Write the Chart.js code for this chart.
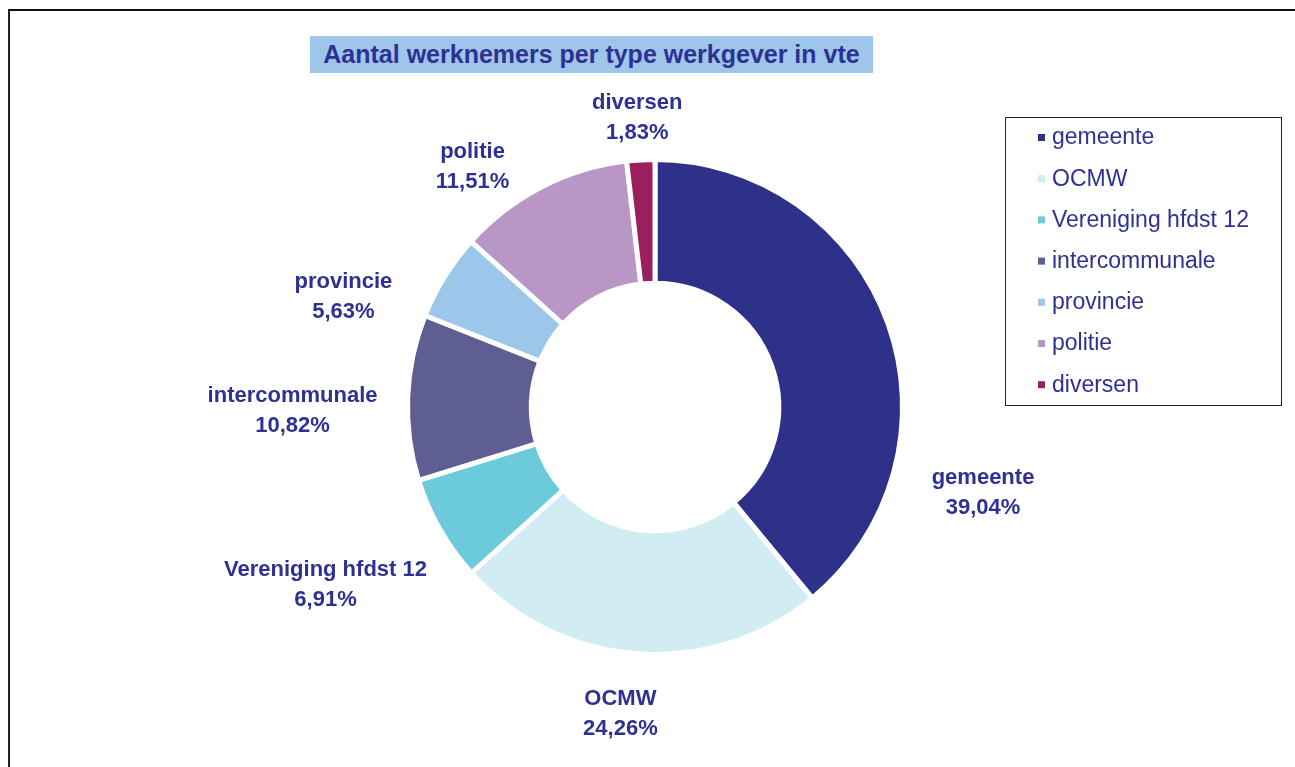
<!DOCTYPE html>
<html>
<head>
<meta charset="utf-8">
<script src="https://cdn.jsdelivr.net/npm/chart.js@4.4.1/dist/chart.umd.min.js"></script>
<style>
  html, body { margin: 0; padding: 0; background: #fff; }
  #wrap { position: relative; width: 1295px; height: 767px; overflow: hidden; }
  #frame { position: absolute; left: 8px; top: 9px; width: 1400px; height: 900px;
           border-top: 2px solid #111; border-left: 2px solid #222; }
  #title { position: absolute; left: 310px; top: 36px; width: 563px; height: 37px;
           background: #9dc6ea; color: #2e3192; text-align: center;
           font: bold 25px "Liberation Sans", Arial, sans-serif; line-height: 37px; }
  canvas { position: absolute; left: 0; top: 0; }
</style>
</head>
<body>
<div id="wrap">
  <div id="frame"></div>
  <canvas id="donut" width="1295" height="767"></canvas>
  <div id="title">Aantal werknemers per type werkgever in vte</div>
</div>
<script>
// Data
var categories = ['gemeente', 'OCMW', 'Vereniging hfdst 12', 'intercommunale', 'provincie', 'politie', 'diversen'];
var shares = [39.04, 24.26, 6.91, 10.82, 5.63, 11.51, 1.83];
var sliceColors = ['#2e3189', '#d1ecf2', '#6ccbdb', '#5f5e93', '#9dc7ea', '#b897c6', '#9b1f5e'];

var textColor = '#2e3192';
var fontFamily = '"Liberation Sans", Arial, sans-serif';

function fmtPct(v) {
  return v.toFixed(2).replace('.', ',') + '%';
}

// labels outside the ring, like the Excel "outside end" labels
var outsideLabels = {
  id: 'outsideLabels',
  afterDatasetsDraw: function(chart, args, opts) {
    var ctx = chart.ctx;
    var meta = chart.getDatasetMeta(0);
    ctx.save();
    ctx.font = 'bold 22px ' + fontFamily;
    ctx.fillStyle = textColor;
    ctx.textAlign = 'center';
    ctx.textBaseline = 'middle';
    meta.data.forEach(function(arc, i) {
      var nudge = opts.nudge[i] || [0, 0];
      var a = (arc.startAngle + arc.endAngle) / 2 + nudge[0] * Math.PI / 180;
      var d = arc.outerRadius + opts.gap + nudge[1];
      var l1 = chart.data.labels[i];
      var l2 = fmtPct(chart.data.datasets[0].data[i]);
      var w = Math.max(ctx.measureText(l1).width, ctx.measureText(l2).width);
      var h = 52;
      var cx = arc.x + d * Math.cos(a) + w / 2 * Math.cos(a);
      var cy = arc.y + d * Math.sin(a) + h / 2 * Math.sin(a);
      ctx.fillText(l1, cx, cy - 15);
      ctx.fillText(l2, cx, cy + 15);
    });
    ctx.restore();
  }
};

// boxed legend on the right
var boxLegend = {
  id: 'boxLegend',
  afterDraw: function(chart, args, opts) {
    var ctx = chart.ctx;
    ctx.save();
    ctx.strokeStyle = '#222';
    ctx.lineWidth = 1;
    ctx.strokeRect(opts.x + 0.5, opts.y + 0.5, opts.w, opts.h);
    ctx.font = '23px ' + fontFamily;
    ctx.textBaseline = 'middle';
    chart.data.labels.forEach(function(lab, i) {
      var y = opts.y + 20 + i * 41.2;
      ctx.fillStyle = chart.data.datasets[0].backgroundColor[i];
      ctx.fillRect(opts.x + 33, y - 3, 7, 7);
      ctx.fillStyle = textColor;
      ctx.fillText(lab, opts.x + 47, y + 1);
    });
    ctx.restore();
  }
};

new Chart(document.getElementById('donut'), {
  type: 'doughnut',
  data: {
    labels: categories,
    datasets: [{
      data: shares,
      backgroundColor: sliceColors,
      borderColor: '#ffffff',
      borderWidth: 5
    }]
  },
  options: {
    responsive: false,
    animation: false,
    devicePixelRatio: 1,
    cutout: '50%',
    layout: {
      padding: { left: 404, right: 389, top: 157, bottom: 110 }
    },
    plugins: {
      legend: { display: false },
      tooltip: { enabled: false },
      outsideLabels: {
        gap: 30,
        nudge: [[35.5, 12], [2, 5], [-4, 17], [-3, 0], [-11, 7], [-9, -6], [0, -14]]
      },
      boxLegend: { x: 1005, y: 117, w: 276, h: 288 }
    }
  },
  plugins: [outsideLabels, boxLegend]
});
</script>
</body>
</html>
